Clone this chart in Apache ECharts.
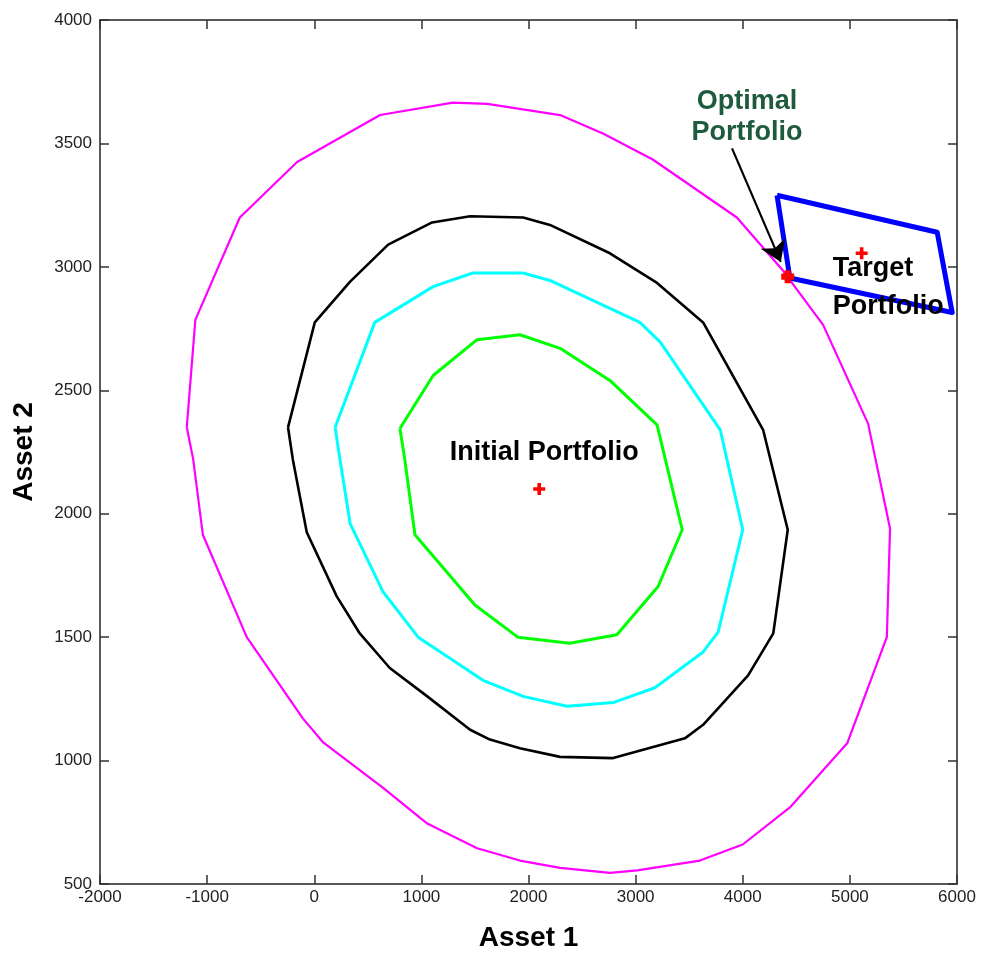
<!DOCTYPE html>
<html>
<head>
<meta charset="utf-8">
<script src="https://cdn.jsdelivr.net/npm/echarts@6/dist/echarts.min.js"></script>
<style>
html,body{margin:0;padding:0;background:#fff;}
#chart{width:981px;height:955px;}
</style>
</head>
<body>
<div id="chart"></div>
<script>
// ---- data (Asset 1, Asset 2) ----
const contourMagenta = [[-1190,2350],[-1110,2785],[-695,3200],[-160,3425],[615,3615],[1295,3665],[1615,3660],[2295,3615],[2695,3540],[3160,3435],[3945,3200],[4375,2985],[4750,2765],[5170,2365],[5375,1940],[5345,1500],[4975,1070],[4440,810],[4000,660],[3600,595],[3015,555],[2760,545],[2295,565],[1920,595],[1520,645],[1055,745],[640,890],[80,1075],[-105,1170],[-630,1500],[-1040,1915],[-1130,2220]];
const contourBlack = [[-245,2350],[5,2775],[335,2940],[690,3090],[1100,3180],[1455,3205],[1950,3200],[2200,3170],[2760,3055],[3200,2935],[3630,2775],[4190,2340],[4420,1935],[4285,1515],[4050,1345],[3630,1145],[3460,1090],[2790,1010],[2295,1015],[1920,1050],[1640,1085],[1455,1125],[1055,1260],[705,1375],[425,1515],[210,1665],[-70,1925],[-200,2220]];
const contourCyan = [[195,2350],[565,2775],[1110,2920],[1480,2975],[1950,2975],[2200,2945],[3040,2775],[3230,2695],[3790,2340],[4000,1935],[3770,1520],[3630,1440],[3180,1295],[2790,1235],[2360,1220],[1950,1260],[1575,1325],[970,1500],[640,1685],[335,1960],[240,2220]];
const contourGreen = [[800,2345],[1110,2560],[1520,2705],[1920,2725],[2295,2670],[2760,2540],[3200,2360],[3435,1935],[3210,1705],[2825,1510],[2385,1475],[1900,1500],[1500,1630],[940,1915],[845,2220]];
const targetRegion = [[4320,3290],[5815,3140],[5955,2815],[4440,2955]];
const initialPortfolio = [2100, 2100];
const targetPortfolio = [5110, 3055];
const optimalPortfolio = [4420, 2960];
const arrowStart = [3900, 3480];
const arrowEnd = [4355, 3020];
const xTicks = [-2000, 6000, 1000];   // min, max, interval
const yTicks = [500, 4000, 500];
const xName = 'Asset 1';
const yName = 'Asset 2';
const labelInitial = 'Initial Portfolio';
const labelTarget = 'Target\nPortfolio';
const labelOptimal = 'Optimal\nPortfolio';

// ---- chart ----
const closed = pts => pts.concat([pts[0]]);
const FONT = '"Liberation Sans", Arial, sans-serif';
const plusPath = 'path://M3.5,0H6.5V3.5H10V6.5H6.5V10H3.5V6.5H0V3.5H3.5Z';
const fatPlusPath = 'path://M2.6,0H7.4V2.6H10V7.4H7.4V10H2.6V7.4H0V2.6H2.6Z';

function contour(data, color, width, z) {
  return {type:'line', data: closed(data), showSymbol:false, symbol:'none', smooth:false,
    lineStyle:{color:color, width:width, join:'round'}, z:z, silent:true, animation:false,
    xAxisIndex:0, yAxisIndex:0};
}

const axisCommon = {
  axisLine:{show:true, onZero:false, lineStyle:{color:'#222', width:1.5}},
  axisTick:{show:true, inside:true, length:9, lineStyle:{color:'#333', width:1.5}},
  splitLine:{show:false}
};
const plainNum = v => String(v);

const chart = echarts.init(document.getElementById('chart'), null, {renderer:'canvas'});
chart.setOption({
  backgroundColor:'#fff',
  animation:false,
  grid:{left:100, right:24, top:20, bottom:71, containLabel:false, outerBoundsMode:'none'},
  xAxis:[
    Object.assign({type:'value', position:'bottom', min:xTicks[0], max:xTicks[1], interval:xTicks[2],
      name:xName, nameLocation:'middle', nameGap:40,
      nameTextStyle:{fontFamily:FONT, fontSize:28, fontWeight:'bold', color:'#000'},
      axisLabel:{show:true, margin:5, formatter:plainNum, fontFamily:FONT, fontSize:17, color:'#222', showMinLabel:true, showMaxLabel:true, hideOverlap:false}
    }, axisCommon),
    Object.assign({type:'value', position:'top', min:xTicks[0], max:xTicks[1], interval:xTicks[2],
      axisLabel:{show:false}}, axisCommon)
  ],
  yAxis:[
    Object.assign({type:'value', position:'left', min:yTicks[0], max:yTicks[1], interval:yTicks[2],
      name:yName, nameLocation:'middle', nameGap:62, nameRotate:90,
      nameTextStyle:{fontFamily:FONT, fontSize:28, fontWeight:'bold', color:'#000'},
      axisLabel:{show:true, margin:8, formatter:plainNum, fontFamily:FONT, fontSize:17, color:'#222', showMinLabel:true, showMaxLabel:true, hideOverlap:false}
    }, axisCommon),
    Object.assign({type:'value', position:'right', min:yTicks[0], max:yTicks[1], interval:yTicks[2],
      axisLabel:{show:false}}, axisCommon)
  ],
  series:[
    contour(contourMagenta, '#ff00ff', 2.2, 2),
    contour(contourBlack, '#000000', 2.6, 3),
    contour(contourCyan, '#00ffff', 3, 4),
    contour(contourGreen, '#00ff00', 3, 5),
    contour(targetRegion, '#0000ff', 5, 6),
    {
      type:'lines', coordinateSystem:'cartesian2d', xAxisIndex:0, yAxisIndex:0, z:7, silent:true,
      symbol:['none','arrow'], symbolSize:[13,20],
      lineStyle:{color:'#000', width:2.2, opacity:1, curveness:0},
      data:[{coords:[arrowStart, arrowEnd]}]
    },
    {
      type:'scatter', xAxisIndex:0, yAxisIndex:0, z:8, silent:true,
      symbol:plusPath, symbolSize:12, itemStyle:{color:'#ff0000', opacity:1},
      data:[
        {value:initialPortfolio, label:{show:true, position:'inside', offset:[5,-36], formatter:labelInitial,
          fontFamily:FONT, fontSize:27, fontWeight:'bold', color:'#000', opacity:1}},
        {value:targetPortfolio, label:{show:true, position:'inside', align:'left', verticalAlign:'middle',
          offset:[-29,34], lineHeight:38, formatter:labelTarget,
          fontFamily:FONT, fontSize:27, fontWeight:'bold', color:'#000', opacity:1}}
      ]
    },
    {
      type:'scatter', xAxisIndex:0, yAxisIndex:0, z:9, silent:true,
      symbol:fatPlusPath, symbolSize:13, itemStyle:{color:'#ff0000', opacity:1},
      data:[optimalPortfolio]
    },
    {
      type:'scatter', xAxisIndex:0, yAxisIndex:0, z:9, silent:true,
      symbol:'circle', symbolSize:1, itemStyle:{color:'rgba(0,0,0,0)', opacity:1},
      data:[{value:arrowStart, label:{show:true, position:'inside', align:'center', verticalAlign:'middle',
        offset:[15,-31], lineHeight:31, formatter:labelOptimal,
        fontFamily:FONT, fontSize:27, fontWeight:'bold', color:'#1e5a3c', opacity:1}}]
    }
  ]
});
</script>
</body>
</html>
